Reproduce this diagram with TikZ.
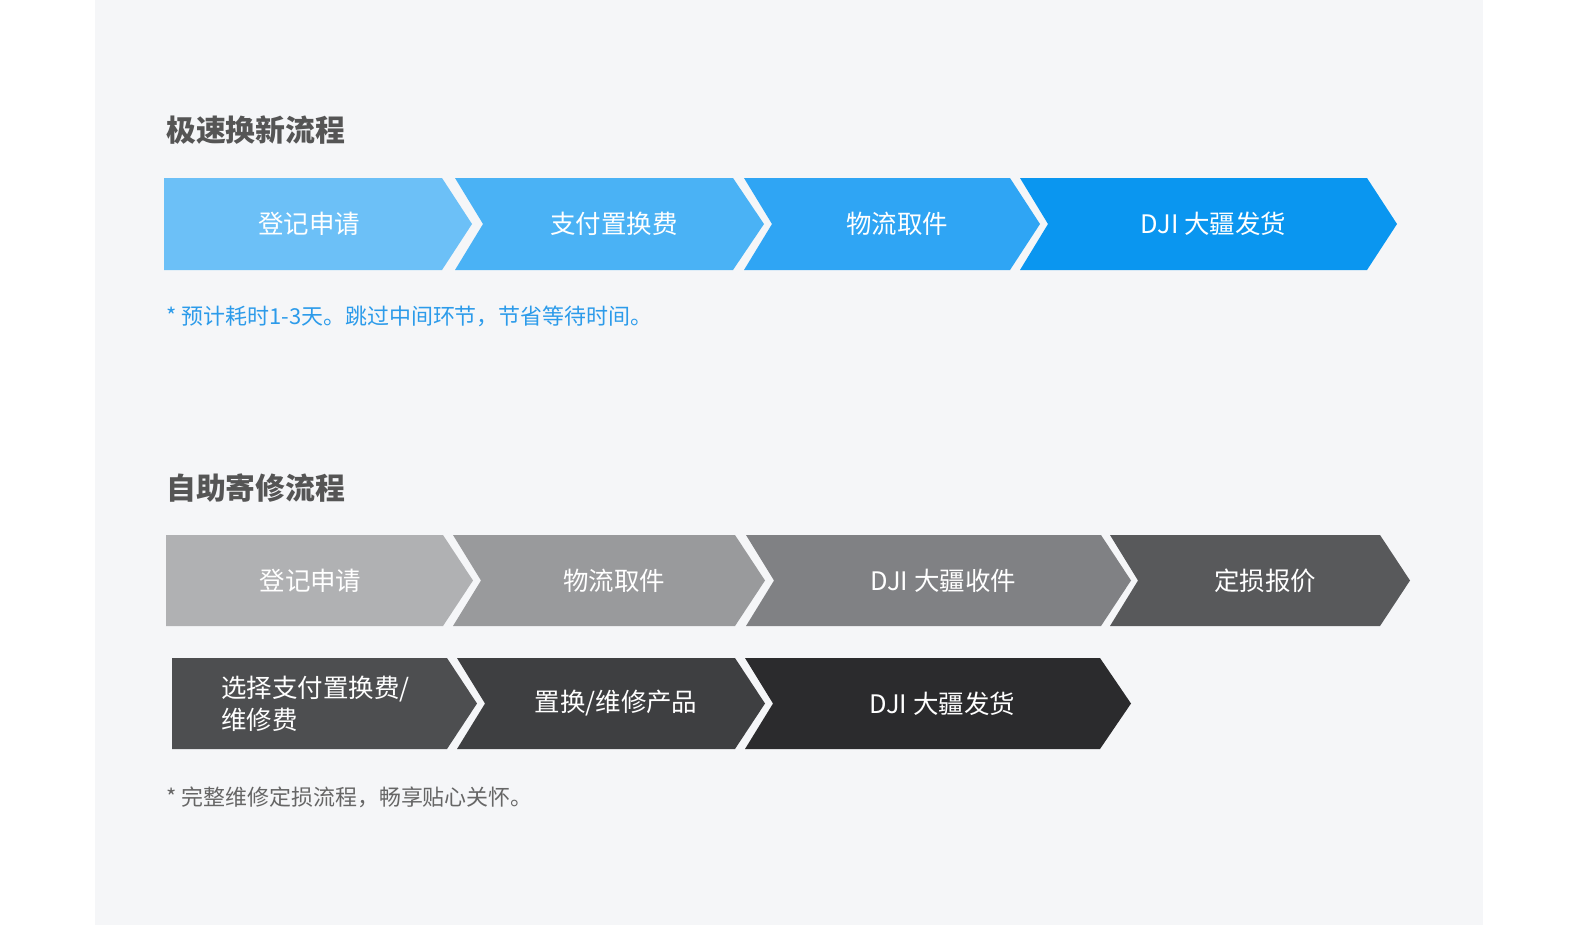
\documentclass[tikz,border=0pt]{standalone}
\usepackage{fontspec}
\setmainfont{Noto Sans CJK SC}
\usetikzlibrary{positioning}
\definecolor{panel}{HTML}{F5F6F8}
\definecolor{titlegray}{HTML}{555555}
\definecolor{noteblue}{HTML}{2C9BEA}
\definecolor{notegray}{HTML}{666666}
\definecolor{bA}{HTML}{6CC0F7}
\definecolor{bB}{HTML}{4AB2F5}
\definecolor{bC}{HTML}{2FA5F4}
\definecolor{bD}{HTML}{0A96F0}
\definecolor{gA}{HTML}{B0B1B3}
\definecolor{gB}{HTML}{999A9C}
\definecolor{gC}{HTML}{808184}
\definecolor{gD}{HTML}{58595B}
\definecolor{gE}{HTML}{4D4E50}
\definecolor{gF}{HTML}{3E3F41}
\definecolor{gG}{HTML}{2B2B2D}
\tikzset{
  steptext/.style={text=white,font=\fontsize{14.5}{18}\selectfont,align=left},
  headtext/.style={text=titlegray,font=\fontsize{17}{20}\selectfont\bfseries,anchor=west},
  notetext/.style={font=\fontsize{12.5}{15}\selectfont,anchor=west}
}
% #1 left, #2 notch, #3 right, #4 tip, #5 top, #6 bottom, #7 colour, #8 name, #9 text
\newcommand{\chevron}[9]{
  \fill[#7] (#1,#5) -- (#3,#5) -- (#4,{(#5+#6)/2}) -- (#3,#6) -- (#1,#6) -- (#2,{(#5+#6)/2}) -- cycle;
  \node[steptext] (#8) at ({(#2+#3)/2+6},{(#5+#6)/2}) {#9};
}
\begin{document}
\begin{tikzpicture}[x=0.02cm,y=-0.02cm]
  \useasboundingbox (0,0) rectangle (1591,948);
  \fill[white] (0,0) rectangle (1591,948);
  \fill[panel] (95,0) rectangle (1483,925);

  \node[headtext] (fasttitle) at (160,130) {极速换新流程};
  \chevron{164}{164}{442}{472}{178}{270}{bA}{f1}{登记申请}
  \chevron{455}{483}{733}{764}{178}{270}{bB}{f2}{支付置换费}
  \chevron{744}{772}{1010}{1040}{178}{270}{bC}{f3}{物流取件}
  \chevron{1020}{1048}{1367}{1397}{178}{270}{bD}{f4}{DJI 大疆发货}
  \node[notetext,text=noteblue] (fastnote) at (160,316) {* 预计耗时1-3天。跳过中间环节，节省等待时间。};

  \node[headtext] (repairtitle) at (160,488) {自助寄修流程};
  \chevron{166}{166}{443}{473}{535}{626}{gA}{r1}{登记申请}
  \chevron{453}{481}{735}{765}{535}{626}{gB}{r2}{物流取件}
  \chevron{746}{774}{1101}{1131}{535}{626}{gC}{r3}{DJI 大疆收件}
  \chevron{1110}{1138}{1380}{1410}{535}{626}{gD}{r4}{定损报价}
  \chevron{172}{172}{447}{477}{658}{749}{gE}{r5}{选择支付置换费/\\维修费}
  \chevron{457}{485}{735}{765}{658}{749}{gF}{r6}{置换/维修产品}
  \chevron{745}{773}{1100}{1131}{658}{749}{gG}{r7}{DJI 大疆发货}
  \node[notetext,text=notegray] (repairnote) at (160,797) {* 完整维修定损流程，畅享贴心关怀。};
\end{tikzpicture}
\end{document}
